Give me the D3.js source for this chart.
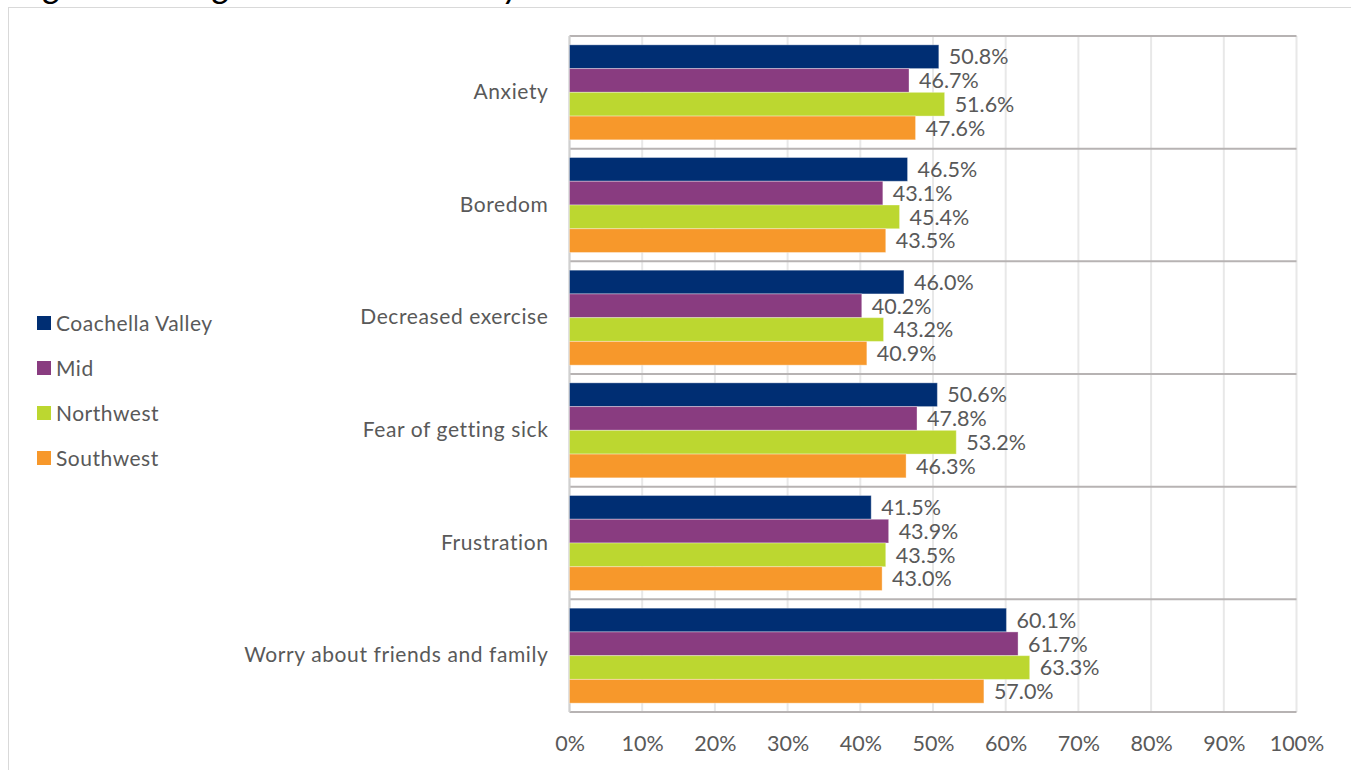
<!DOCTYPE html>
<html><head><meta charset="utf-8">
<script src="https://cdn.jsdelivr.net/npm/d3@7"></script>
<style>
html,body{margin:0;padding:0;background:#fff;overflow:hidden}
text{font-family:Lato,"Open Sans",sans-serif}
</style></head>
<body><svg id="c" width="1351" height="770"></svg>
<script>
const categories = ["Anxiety","Boredom","Decreased exercise","Fear of getting sick","Frustration","Worry about friends and family"];
const seriesNames = ["Coachella Valley","Mid","Northwest","Southwest"];
const coachella = [50.8,46.5,46.0,50.6,41.5,60.1];
const mid = [46.7,43.1,40.2,47.8,43.9,61.7];
const northwest = [51.6,45.4,43.2,53.2,43.5,63.3];
const southwest = [47.6,43.5,40.9,46.3,43.0,57.0];
const seriesValues = [coachella, mid, northwest, southwest];
const colors = ["#002e73","#893c80","#bcd730","#f7982b"];
const xTicks = [0,10,20,30,40,50,60,70,80,90,100];
const titleText = "Figure 9: Negative Emotions by Area";

(function(){
const svg = d3.select("#c");
const pL = 569.5, pR = 1296.5, pT = 36, pB = 712;
const x = d3.scaleLinear().domain([0,100]).range([pL,pR]);
const y = d3.scaleBand().domain(categories).range([pT,pB]).paddingInner(0.157).paddingOuter(0.0785);
const yOuter = d3.scaleBand().domain(categories).range([pT,pB]);
const sub = d3.scaleBand().domain(seriesNames).range([0,y.bandwidth()]);

svg.append("rect").attr("x",8.5).attr("y",7.5).attr("width",1400).attr("height",800)
  .attr("fill","none").attr("stroke","#d9d9d9").attr("stroke-width",1);

svg.append("text").attr("x",14).attr("y",-2.5).attr("font-size",36).attr("font-style","italic")
  .attr("letter-spacing",1.5).attr("fill","#000").text(titleText);

svg.append("g").selectAll("line").data(xTicks).join("line")
  .attr("x1",d=>x(d)).attr("x2",d=>x(d)).attr("y1",pT).attr("y2",pB)
  .attr("stroke","#e8e8e8").attr("stroke-width",2);

const seps = categories.map(c=>yOuter(c)).concat([pB]);
svg.append("g").selectAll("line").data(seps).join("line")
  .attr("x1",pL).attr("x2",pR).attr("y1",d=>d).attr("y2",d=>d)
  .attr("stroke","#b7b3b3").attr("stroke-width",2);

svg.append("line").attr("x1",pL).attr("x2",pL).attr("y1",pT).attr("y2",pB)
  .attr("stroke","#d0d0d0").attr("stroke-width",2);

seriesNames.forEach((s,si)=>{
  const g = svg.append("g");
  g.selectAll("rect").data(categories).join("rect")
    .attr("x",pL).attr("y",c=>y(c)+sub(s))
    .attr("width",(c,i)=>x(seriesValues[si][i])-pL)
    .attr("height",sub.bandwidth())
    .attr("fill",colors[si]).attr("stroke","#ffffff").attr("stroke-opacity",0.35).attr("stroke-width",1);
  g.selectAll("text").data(categories).join("text")
    .attr("x",(c,i)=>x(seriesValues[si][i])+10)
    .attr("y",c=>y(c)+sub(s)+sub.bandwidth()/2)
    .attr("dy","0.36em").attr("font-size",21.5).attr("fill","#595959")
    .text((c,i)=>seriesValues[si][i].toFixed(1)+"%");
});

const yAxis = d3.axisLeft(yOuter).tickSize(0).tickPadding(21);
const ya = svg.append("g").attr("transform",`translate(${pL},0)`).call(yAxis);
ya.select(".domain").remove();
ya.selectAll("text").attr("font-size",21).attr("letter-spacing",0.6).attr("fill","#595959").attr("font-family","Lato");

const xAxis = d3.axisBottom(x).tickValues(xTicks).tickFormat(d=>d+"%").tickSize(0).tickPadding(24);
const xa = svg.append("g").attr("transform",`translate(0,${pB})`).call(xAxis);
xa.select(".domain").remove();
xa.selectAll("text").attr("font-size",21.5).attr("fill","#595959").attr("font-family","Lato");

const lg = svg.append("g");
seriesNames.forEach((s,i)=>{
  const yy = 316 + i*45;
  lg.append("rect").attr("x",37).attr("y",yy).attr("width",14).attr("height",14).attr("fill",colors[i]);
  lg.append("text").attr("x",56).attr("y",yy+7).attr("dy","0.36em").attr("font-size",21)
    .attr("letter-spacing",0.5).attr("fill","#595959").text(s);
});
})();
</script></body></html>
